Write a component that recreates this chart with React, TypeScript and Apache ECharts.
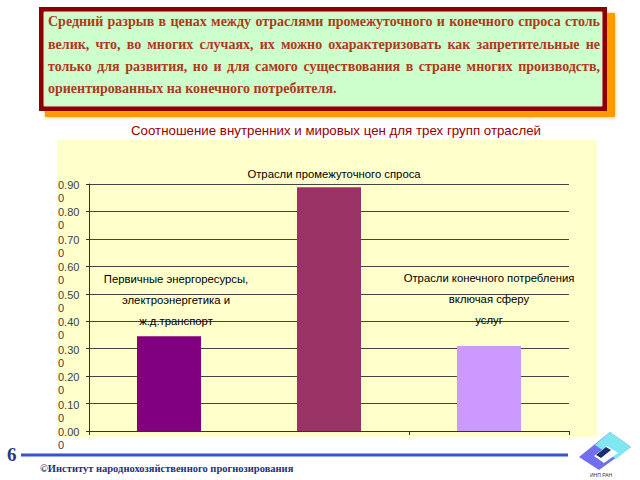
import React, { useEffect, useRef } from "react";
import * as echarts from "echarts";

const headerLines = [
  "Средний разрыв в ценах между отраслями промежуточного и конечного спроса столь",
  "велик, что, во многих случаях, их можно охарактеризовать как запретительные не",
  "только для развития, но и для самого существования в стране многих производств,",
  "ориентированных на конечного потребителя.",
];
const chartTitle = "Соотношение внутренних и мировых цен для трех групп отраслей";
const categories = [
  "Первичные энергоресурсы,\nэлектроэнергетика и\nж.д.транспорт",
  "Отрасли промежуточного спроса",
  "Отрасли конечного потребления\nвключая сферу\nуслуг",
];
const values = [0.345, 0.888, 0.31];
const barColors = ["#800080", "#993366", "#cc99ff"];
const footerText = "©Институт народнохозяйственного прогнозирования";
const pageNumber = "6";

const HEADER_FONT = "bold 14px 'Liberation Serif'";

function measure(ctx: CanvasRenderingContext2D | null, s: string, fs: number) {
  if (ctx) return ctx.measureText(s).width;
  return s.length * fs * 0.5;
}

export default function App() {
  const ref = useRef<HTMLDivElement>(null);
  useEffect(() => {
    if (!ref.current) return;
    const chart = echarts.init(ref.current, undefined, { renderer: "svg" });

    const canvas = document.createElement("canvas");
    const ctx = canvas.getContext("2d");
    if (ctx) ctx.font = HEADER_FONT;

    const x0 = 48, x1 = 600;
    const lineYs = [21, 44, 66, 88];
    const headerEls: any[] = [];
    headerLines.forEach((line, i) => {
      const words = line.split(" ");
      const justify = i < headerLines.length - 1;
      const widths = words.map((w) => measure(ctx, w, 14));
      const total = widths.reduce((a, b) => a + b, 0);
      const gap = justify ? (x1 - x0 - total) / (words.length - 1) : measure(ctx, " ", 14);
      let x = x0;
      words.forEach((w, j) => {
        headerEls.push({
          type: "text",
          x,
          y: lineYs[i],
          z: 5,
          style: {
            text: w,
            font: HEADER_FONT,
            fill: "#b0381c",
            verticalAlign: "middle",
          },
        });
        x += widths[j] + gap;
      });
    });

    const barLabelCfg = [
      { distance: 5, offset: [7, 0] },
      { distance: 3, offset: [5, 0] },
      { distance: 15, offset: [0, 0] },
    ];

    chart.setOption({
      animation: false,
      backgroundColor: "#ffffff",
      grid: { left: 89, right: 71, top: 184, bottom: 49 },
      xAxis: {
        type: "category",
        data: categories,
        boundaryGap: true,
        axisLine: { lineStyle: { color: "#333333", width: 1 } },
        axisTick: { show: true, length: 4, lineStyle: { color: "#333333" } },
        axisLabel: { show: false },
      },
      yAxis: {
        type: "value",
        min: 0,
        max: 0.9,
        interval: 0.1,
        axisLine: { show: true, lineStyle: { color: "#333333" } },
        axisTick: { show: true, length: 3, lineStyle: { color: "#333333" } },
        splitLine: { show: true, lineStyle: { color: "#444444", width: 1 } },
        axisLabel: {
          showMinLabel: true,
          showMaxLabel: true,
          hideOverlap: false,
          formatter: (v: number) => "{a|" + v.toFixed(2) + "}\n{b|0}",
          align: "left",
          verticalAlign: "top",
          margin: 31,
          color: "#404040",
          fontFamily: "Liberation Sans",
          fontSize: 11,
          rich: {
            a: { lineHeight: 2, fontSize: 11, fontFamily: "Liberation Sans", color: "#404040" },
            b: { lineHeight: 24, fontSize: 11, fontFamily: "Liberation Sans", color: "#404040" },
          },
        },
      },
      series: [
        {
          type: "bar",
          barWidth: "40%",
          data: values.map((v, i) => ({
            value: v,
            itemStyle: { color: barColors[i] },
            label: {
              show: true,
              position: "top",
              distance: barLabelCfg[i].distance,
              offset: barLabelCfg[i].offset,
              formatter: "{b}",
              color: "#000000",
              fontFamily: "Liberation Sans",
              fontSize: 11.3,
              lineHeight: 21,
              align: "center",
            },
          })),
        },
      ],
      graphic: [
        {
          type: "rect",
          z: -10,
          shape: { x: 57, y: 140, width: 540, height: 297 },
          style: { fill: "#ffffcc" },
        },
        {
          type: "rect",
          z: 1,
          shape: { x: 45, y: 13, width: 570, height: 104 },
          style: { fill: "#ff9900", shadowBlur: 4, shadowColor: "rgba(255,150,0,0.6)" },
        },
        {
          type: "rect",
          z: 2,
          shape: { x: 39, y: 7, width: 568, height: 104 },
          style: { fill: "#8b0000" },
        },
        {
          type: "rect",
          z: 3,
          shape: { x: 44, y: 12, width: 558, height: 94 },
          style: { fill: "#ccffcc", stroke: "#ffd8d0", lineWidth: 1 },
        },
        ...headerEls,
        {
          type: "text",
          x: 336,
          y: 130,
          z: 5,
          style: {
            text: chartTitle,
            font: "13.3px 'Liberation Sans'",
            fill: "#990000",
            align: "center",
            verticalAlign: "middle",
          },
        },
        {
          type: "text",
          x: 7,
          y: 454,
          style: {
            text: pageNumber,
            font: "bold 19px 'Liberation Serif'",
            fill: "#1f3a8a",
            verticalAlign: "middle",
          },
        },
        {
          type: "line",
          shape: { x1: 21, y1: 455, x2: 568, y2: 455 },
          style: { stroke: "#3355cc", lineWidth: 3 },
        },
        {
          type: "text",
          x: 40,
          y: 468,
          style: {
            text: footerText,
            font: "bold 10.5px 'Liberation Serif'",
            fill: "#1f2f80",
            verticalAlign: "middle",
          },
        },
        {
          type: "polygon",
          shape: { points: [[579, 457], [610, 432], [631, 447], [599, 470]] },
          style: { fill: "#6f6ff0" },
        },
        {
          type: "polygon",
          shape: { points: [[595, 445], [610, 432], [631, 447], [616, 459]] },
          style: { fill: "#80e6f2" },
        },
        {
          type: "polygon",
          shape: { points: [[594, 456], [607, 446], [618, 453], [604, 463]] },
          style: { fill: "#ffffff" },
        },
        {
          type: "polygon",
          shape: { points: [[596, 455], [606, 447], [611, 450], [601, 458]] },
          style: { fill: "#1a2f70" },
        },
        {
          type: "text",
          x: 601,
          y: 475,
          style: {
            text: "ИНП РАН",
            font: "5px 'Liberation Sans'",
            fill: "#334",
            align: "center",
            verticalAlign: "middle",
          },
        },
      ],
    });
    return () => chart.dispose();
  }, []);
  return (
    <div
      ref={ref}
      style={{ position: "fixed", left: 0, top: 0, width: 640, height: 480 }}
    />
  );
}
